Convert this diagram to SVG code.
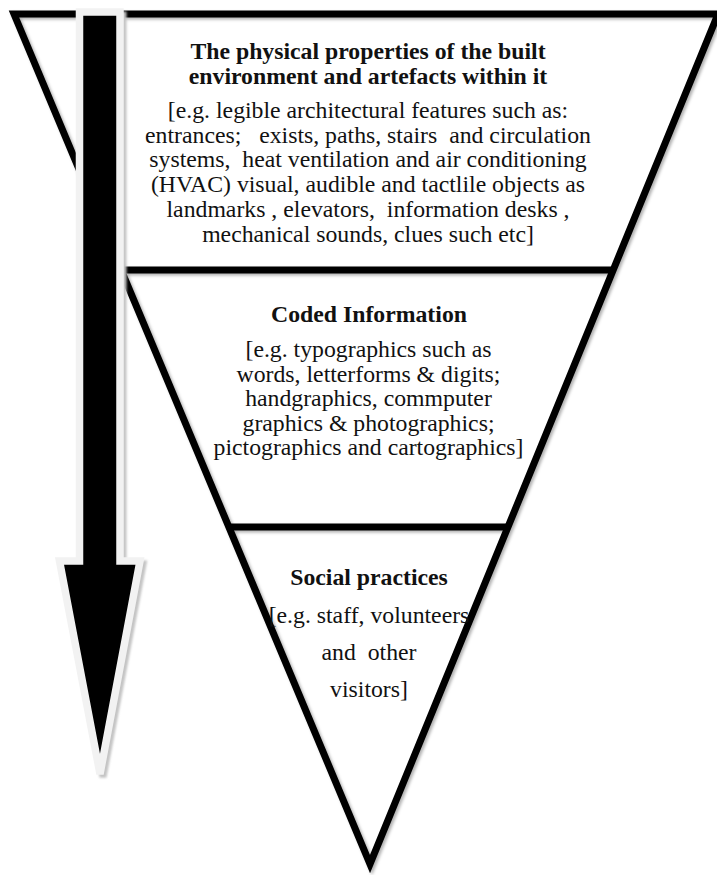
<svg xmlns="http://www.w3.org/2000/svg" width="717" height="875" viewBox="0 0 717 875">
  <style>
    text { font-family: "Liberation Serif", "Times New Roman", serif; font-size: 23.75px; fill: #111; text-anchor: middle; white-space: pre; }
    .head { font-weight: bold; }
    .frame { fill: none; stroke: #000; stroke-width: 7; stroke-linejoin: miter; stroke-miterlimit: 10; }
  </style>
  <defs>
    <filter id="soft" x="-5%" y="-5%" width="110%" height="110%">
      <feDropShadow dx="2" dy="2" stdDeviation="1.5" flood-color="#000" flood-opacity="0.3"/>
    </filter>
    <filter id="blur1" x="-20%" y="-5%" width="140%" height="110%">
      <feGaussianBlur stdDeviation="1"/>
    </filter>
  </defs>
  <rect width="717" height="875" fill="#fff"/>

  <!-- inverted triangle split into three bands -->
  <g id="frame" filter="url(#soft)">
    <polygon points="14,14 718,14 370,864" fill="#fff" class="frame"/>
    <line x1="121" y1="270" x2="613" y2="270" class="frame"/>
    <line x1="229" y1="527" x2="508" y2="527" class="frame"/>
  </g>

  <!-- top band -->
  <g id="physical">
    <text class="head" x="368" y="59">The physical properties of the built</text>
    <text class="head" x="368" y="84">environment and artefacts within it</text>
    <text x="368" y="118">[e.g. legible architectural features such as:</text>
    <text x="368" y="142.7">entrances;   exists, paths, stairs  and circulation</text>
    <text x="368" y="167.4">systems,  heat ventilation and air conditioning</text>
    <text x="368" y="192.1">(HVAC) visual, audible and tactlile objects as</text>
    <text x="368" y="216.8">landmarks , elevators,  information desks ,</text>
    <text x="368" y="241.5">mechanical sounds, clues such etc]</text>
  </g>

  <!-- middle band -->
  <g id="coded">
    <text class="head" x="369" y="322">Coded Information</text>
    <text x="368.5" y="357">[e.g. typographics such as</text>
    <text x="368.5" y="381.6">words, letterforms &amp; digits;</text>
    <text x="368.5" y="406.2">handgraphics, commputer</text>
    <text x="368.5" y="430.8">graphics &amp; photographics;</text>
    <text x="368.5" y="455.4">pictographics and cartographics]</text>
  </g>

  <!-- bottom band -->
  <g id="social">
    <text class="head" x="369" y="585">Social practices</text>
    <text x="369" y="623">[e.g. staff, volunteers</text>
    <text x="369" y="660">and  other</text>
    <text x="369" y="697">visitors]</text>
  </g>

  <!-- downward block arrow -->
  <g id="connectors">
    <polygon points="82.5,15 123,15 123,564 143,564 103,777 62.5,564 82.5,564"
             fill="#c4c4c4" stroke="#c4c4c4" stroke-width="7" stroke-linejoin="miter" filter="url(#blur1)"/>
    <polygon points="79.5,12 120,12 120,561 140,561 100,774 59.5,561 79.5,561"
             fill="#000" stroke="#f2f2f2" stroke-width="7.5" stroke-linejoin="miter"/>
  </g>
</svg>
